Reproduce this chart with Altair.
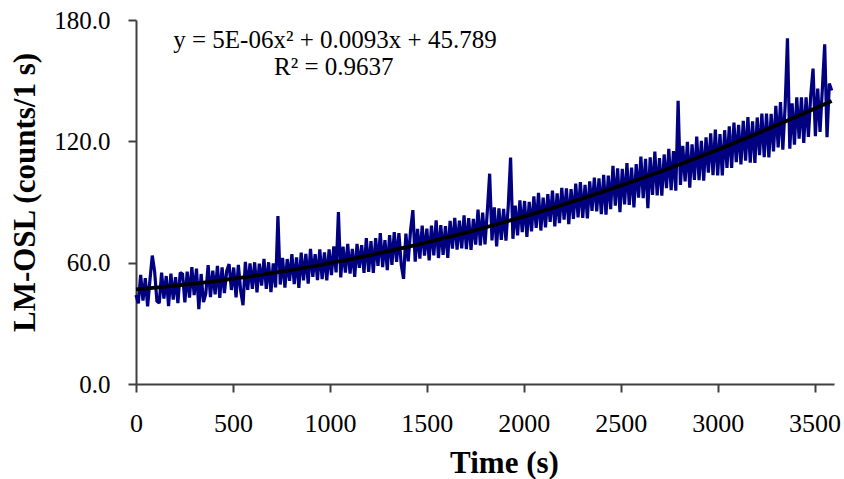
import altair as alt
import pandas as pd

# Time grid (s), one reading every 12 s
times = list(range(0, 3600, 12))

# LM-OSL counts, 10 readings per row (120 s per row)
counts = [
    44.0, 39.9, 54.0, 41.2, 52.3, 38.4, 51.5, 63.5, 55.7, 40.9,
    40.0, 55.1, 42.2, 53.4, 38.5, 54.6, 41.7, 52.8, 40.0, 55.1,
    54.3, 40.4, 55.6, 42.7, 57.8, 44.0, 57.1, 37.0, 54.4, 40.5,
    44.7, 58.8, 43.0, 56.1, 44.3, 58.4, 42.6, 57.7, 44.9, 56.0,
    59.3, 46.5, 57.6, 42.8, 58.9, 46.1, 39.0, 60.4, 46.5, 59.7,
    47.0, 60.2, 45.3, 59.5, 48.7, 61.9, 47.0, 60.2, 45.4, 59.6,
    47.8, 83.0, 49.2, 62.4, 47.6, 61.8, 51.0, 64.2, 49.4, 62.6,
    47.5, 65.0, 51.2, 64.4, 49.6, 66.8, 53.0, 64.2, 51.4, 66.6,
    51.9, 65.1, 51.3, 66.6, 53.8, 68.0, 55.2, 85.0, 52.7, 67.9,
    55.1, 69.3, 54.6, 66.8, 53.0, 69.3, 57.5, 68.7, 54.9, 72.2,
    55.4, 70.6, 54.9, 72.1, 58.4, 74.6, 57.8, 71.1, 56.3, 73.6,
    58.9, 75.1, 60.4, 74.6, 58.9, 52.0, 74.4, 60.6, 75.9, 86.0,
    60.5, 76.7, 62.0, 78.3, 63.5, 76.8, 61.1, 78.3, 63.6, 80.9,
    62.3, 78.6, 63.8, 78.1, 62.4, 80.7, 67.0, 82.2, 66.5, 80.8,
    67.1, 83.4, 66.7, 82.0, 66.3, 81.6, 68.9, 86.2, 68.5, 84.8,
    69.1, 85.4, 104.0, 71.0, 87.3, 68.0, 86.9, 71.3, 86.6, 70.9,
    88.2, 112.0, 71.8, 88.2, 73.5, 90.8, 75.1, 90.5, 72.8, 90.1,
    75.5, 92.8, 77.2, 94.5, 75.9, 92.2, 77.5, 93.9, 80.2, 95.6,
    77.9, 94.3, 79.6, 97.0, 81.3, 96.7, 79.0, 96.4, 81.7, 99.1,
    82.4, 99.8, 82.1, 98.5, 81.9, 100.2, 85.6, 102.0, 85.3, 101.7,
    84.0, 103.4, 83.8, 103.1, 86.5, 107.9, 88.2, 106.6, 85.0, 106.4,
    88.8, 109.2, 88.6, 107.0, 87.3, 108.7, 92.1, 112.5, 91.9, 111.3,
    87.0, 112.1, 93.5, 114.9, 93.3, 111.7, 93.1, 113.5, 96.9, 116.3,
    95.8, 115.2, 95.6, 140.0, 98.4, 117.8, 100.2, 119.7, 97.1, 118.5,
    100.9, 122.3, 100.8, 120.2, 100.6, 122.0, 104.5, 123.9, 103.3, 125.8,
    103.2, 123.6, 103.1, 125.5, 106.9, 127.4, 106.8, 129.3, 109.7, 128.2,
    108.6, 130.1, 110.5, 132.0, 109.4, 129.9, 109.3, 131.8, 113.2, 133.7,
    112.2, 133.7, 112.1, 133.6, 115.0, 137.5, 117.0, 139.4, 115.9, 137.4,
    171.0, 116.4, 138.8, 118.3, 141.8, 121.3, 141.7, 119.2, 141.7, 122.2,
    142.7, 156.0, 122.6, 146.1, 124.6, 146.1, 168.0, 122.0, 148.6, 145.1,
]

x_ticks = [0, 500, 1000, 1500, 2000, 2500, 3000, 3500]
y_ticks = [0, 60, 120, 180]

ann_text = ["y = 5E-06x² + 0.0093x + 45.789", "R² = 0.9637"]
ann_t = [1026, 1020]
ann_v = [166.2, 152.8]

df = pd.DataFrame({"t": times, "v": counts})
ann = pd.DataFrame({"t": ann_t, "v": ann_v, "label": ann_text})

SERIF = "Liberation Serif"

x_enc = alt.X(
    "t:Q",
    scale=alt.Scale(domain=[0, 3600], nice=False),
    axis=alt.Axis(
        title="Time (s)",
        values=x_ticks,
        format="d",
        labelFont=SERIF,
        labelFontSize=26,
        labelColor="#000000",
        labelPadding=18,
        labelFlush=False,
        labelOverlap=False,
        titleFont=SERIF,
        titleFontSize=31,
        titleFontWeight="bold",
        titleColor="#000000",
        titleX=368,
        titleY=88,
        titleBaseline="alphabetic",
        titleAlign="center",
    ),
)
y_enc = alt.Y(
    "v:Q",
    scale=alt.Scale(domain=[0, 180], nice=False),
    axis=alt.Axis(
        title="LM-OSL (counts/1 s)",
        values=y_ticks,
        format=".1f",
        labelFont=SERIF,
        labelFontSize=25,
        labelColor="#000000",
        labelPadding=18,
        labelFlush=False,
        labelOverlap=False,
        titleFont=SERIF,
        titleFontSize=31,
        titleFontWeight="bold",
        titleColor="#000000",
        titleX=-111,
        titleY=172,
        titleBaseline="middle",
        titleAlign="center",
        titleAngle=270,
    ),
)

signal = alt.Chart(df).mark_line(
    color="#000080", strokeWidth=3.2, strokeJoin="miter", strokeMiterLimit=2
).encode(x=x_enc, y=y_enc)

trend = (
    alt.Chart(df)
    .transform_regression("t", "v", method="poly", order=2)
    .mark_line(color="#000000", strokeWidth=3.8)
    .encode(x="t:Q", y="v:Q")
)

labels = (
    alt.Chart(ann)
    .mark_text(font=SERIF, fontSize=25, color="#000000", align="center", baseline="alphabetic")
    .encode(x="t:Q", y="v:Q", text="label:N")
)

chart = (
    alt.layer(signal, trend, labels)
    .properties(
        width=698,
        height=364,
        autosize=alt.AutoSizeParams(type="none"),
        padding={"left": 136, "top": 20, "right": 10, "bottom": 95},
    )
    .configure_view(stroke=None)
    .configure_axis(
        grid=False,
        domainColor="#404040",
        domainWidth=2,
        tickColor="#404040",
        tickWidth=2,
        tickSize=8,
    )
)

chart.save("out.html", embed_options={"renderer": "svg", "actions": False})
